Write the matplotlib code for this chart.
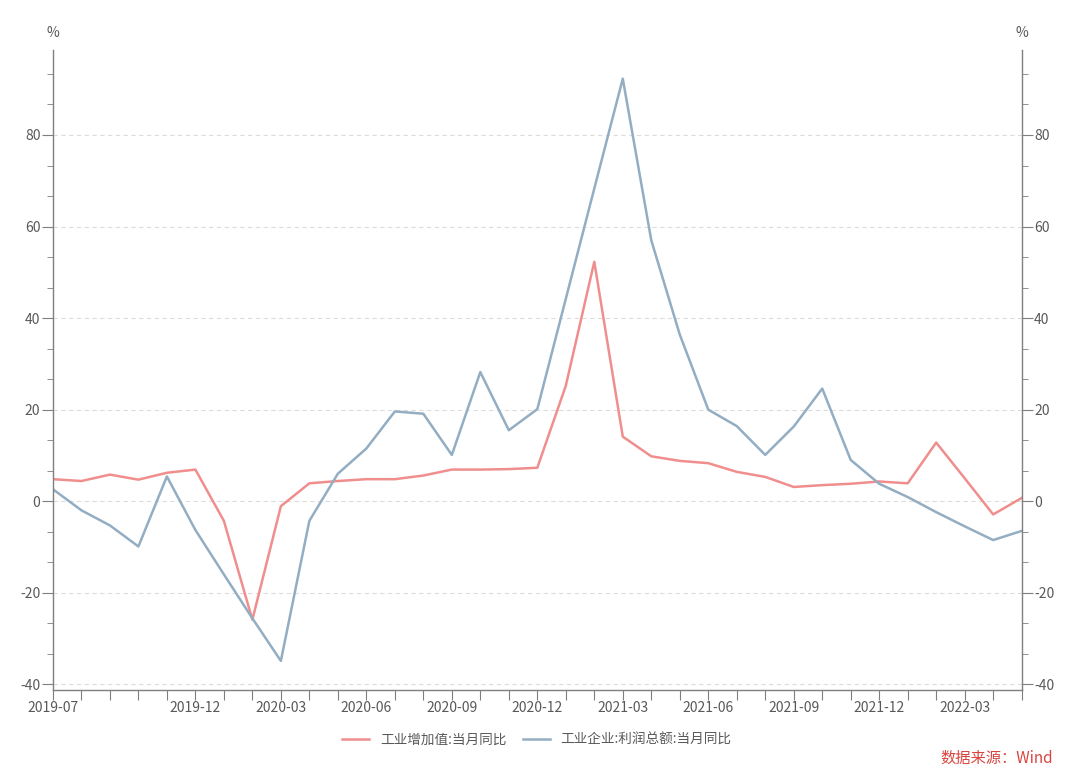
import numpy as np
import matplotlib
matplotlib.use("Agg")
import matplotlib.pyplot as plt
from matplotlib.ticker import MultipleLocator, FixedLocator

plt.rcParams['font.family'] = ['Noto Sans CJK SC', 'DejaVu Sans']
plt.rcParams['axes.unicode_minus'] = False

# months 2019-07 .. 2022-05
months = ["2019-07", "2019-08", "2019-09", "2019-10", "2019-11", "2019-12",
          "2020-01", "2020-02", "2020-03", "2020-04", "2020-05", "2020-06",
          "2020-07", "2020-08", "2020-09", "2020-10", "2020-11", "2020-12",
          "2021-01", "2021-02", "2021-03", "2021-04", "2021-05", "2021-06",
          "2021-07", "2021-08", "2021-09", "2021-10", "2021-11", "2021-12",
          "2022-01", "2022-02", "2022-03", "2022-04", "2022-05"]

# 工业增加值:当月同比
ip_yoy = [4.8, 4.4, 5.8, 4.7, 6.2, 6.9,
          -4.3, -25.9, -1.1, 3.9, 4.4, 4.8,
          4.8, 5.6, 6.9, 6.9, 7.0, 7.3,
          25.2, 52.3, 14.1, 9.8, 8.8, 8.3,
          6.4, 5.3, 3.1, 3.5, 3.8, 4.3,
          3.9, 12.8, 5.0, -2.9, 0.7]

# 工业企业:利润总额:当月同比
profit_yoy = [2.6, -2.0, -5.3, -9.9, 5.4, -6.3,
              -16.0, -25.6, -34.9, -4.3, 6.0, 11.5,
              19.6, 19.1, 10.1, 28.2, 15.5, 20.1,
              44.2, 68.3, 92.3, 57.0, 36.4, 20.0,
              16.4, 10.1, 16.3, 24.6, 9.0, 3.8,
              0.9, -2.4, -5.5, -8.5, -6.5]

label_ip = "工业增加值:当月同比"
label_profit = "工业企业:利润总额:当月同比"

pink = "#f08e8e"
blue = "#93adc2"
gray = "#7f7f7f"
txt = "#595959"

x = np.arange(len(months))

fig = plt.figure(figsize=(10.8, 7.79), dpi=100)
ax = fig.add_axes([0.049, 0.114, 0.897, 0.822])

ax.plot(x, ip_yoy, color=pink, lw=1.8, label=label_ip)
ax.plot(x, profit_yoy, color=blue, lw=1.8, label=label_profit)

ax.set_xlim(0, len(months) - 1)
ax.set_ylim(-41.3, 98.6)

ax.yaxis.set_major_locator(MultipleLocator(20))
ax.yaxis.set_minor_locator(MultipleLocator(20 / 3))
ax.grid(axis="y", which="major", color="#dcdcdc", ls=(0, (4, 3)), lw=0.8)
ax.set_axisbelow(True)

lab_idx = [0] + list(range(5, len(months), 3))
ax.xaxis.set_major_locator(FixedLocator(x))
ax.set_xticklabels([months[i] if i in lab_idx else "" for i in x])

ax.spines["top"].set_visible(False)
for s in ["left", "right", "bottom"]:
    ax.spines[s].set_color(gray)
    ax.spines[s].set_linewidth(1.0)

ax.tick_params(axis="y", which="major", length=8, color=gray, labelcolor=txt,
               labelsize=10, left=True, right=True, labelleft=True, labelright=True, pad=1)
ax.tick_params(axis="y", which="minor", length=4, color=gray, left=True, right=True)
ax.tick_params(axis="x", length=7, color=gray, labelcolor=txt, labelsize=10, pad=1)

fig.text(0.049, 0.958, "%", ha="center", va="center", color=txt, fontsize=10)
fig.text(0.946, 0.958, "%", ha="center", va="center", color=txt, fontsize=10)

fig.legend(loc="center", bbox_to_anchor=(0.497, 0.051), ncol=2, frameon=False,
           fontsize=9.8, handlelength=2.0, columnspacing=1.2, labelcolor=txt)

fig.text(0.975, 0.027, "数据来源：Wind", ha="right", va="center", color="#d9453f", fontsize=11)

fig.savefig("out.png", dpi=100)
